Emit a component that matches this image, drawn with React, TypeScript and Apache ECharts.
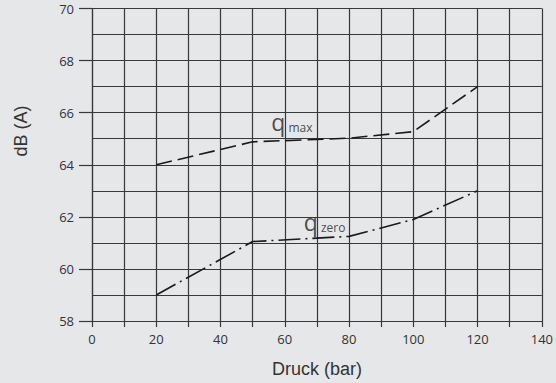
import React, { useEffect, useRef } from "react";
import * as echarts from "echarts";

const pressure = [20, 50, 80, 100, 120];
const qMax = [64, 64.88, 65.02, 65.27, 67];
const qZero = [59, 61.05, 61.25, 61.9, 63];
const xTicks = [0, 20, 40, 60, 80, 100, 120, 140];
const yTicks = [58, 60, 62, 64, 66, 68, 70];
const labelPoints = [
  { x: 62.2, y: 65.68, main: "q", sub: "max" },
  { x: 72.4, y: 61.84, main: "q", sub: "zero" },
];

const GRID = "#383838";
const TXT = "#333333";
const FONT = "'Open Sans', 'Noto Sans', sans-serif";
const SANS = "'Liberation Sans', Arial, sans-serif";

export default function App() {
  const ref = useRef<HTMLDivElement>(null);
  useEffect(() => {
    if (!ref.current) return;
    const chart = echarts.init(ref.current, undefined, { renderer: "svg" });
    const gl = { color: GRID, width: 1.2 };
    chart.setOption({
      animation: false,
      backgroundColor: "#e6e7e9",
      textStyle: { fontFamily: FONT },
      grid: { left: 92, right: 12, top: 8.5, bottom: 62, containLabel: false },
      xAxis: {
        type: "value",
        min: xTicks[0],
        max: xTicks[xTicks.length - 1],
        interval: 20,
        axisLine: { show: true, lineStyle: gl },
        axisTick: { show: true, length: 6, lineStyle: gl },
        minorTick: { show: true, splitNumber: 2, length: 6, lineStyle: gl },
        splitLine: { show: true, lineStyle: gl },
        minorSplitLine: { show: true, lineStyle: gl },
        axisLabel: { color: TXT, fontSize: 13, margin: 11, fontFamily: FONT },
        name: "Druck (bar)",
        nameLocation: "middle",
        nameGap: 39,
        nameTextStyle: { color: TXT, fontSize: 18, fontFamily: SANS },
      },
      yAxis: {
        type: "value",
        min: yTicks[0],
        max: yTicks[yTicks.length - 1],
        interval: 2,
        axisLine: { show: true, lineStyle: gl },
        axisTick: { show: true, length: 13, lineStyle: gl },
        minorTick: { show: false, splitNumber: 2 },
        splitLine: { show: true, lineStyle: gl },
        minorSplitLine: { show: true, lineStyle: gl },
        axisLabel: { color: TXT, fontSize: 13, margin: 18, fontFamily: FONT },
      },
      graphic: [
        {
          type: "text",
          x: 21,
          y: 131,
          rotation: Math.PI / 2,
          style: {
            text: "dB (A)",
            fill: TXT,
            fontSize: 18,
            fontFamily: SANS,
            align: "center",
            verticalAlign: "middle",
          },
        },
      ],
      series: [
        {
          type: "line",
          name: "qmax",
          data: pressure.map((p, i) => [p, qMax[i]]),
          symbol: "none",
          lineStyle: { color: "#1a1a1a", width: 1.6, type: [16, 6] },
        },
        {
          type: "line",
          name: "qzero",
          data: pressure.map((p, i) => [p, qZero[i]]),
          symbol: "none",
          lineStyle: { color: "#1a1a1a", width: 1.6, type: [22, 5, 2, 5] },
        },
        {
          type: "scatter",
          data: labelPoints.map((l) => ({ value: [l.x, l.y], main: l.main, sub: l.sub })),
          symbolSize: 0,
          silent: true,
          label: {
            show: true,
            position: "inside",
            formatter: (p: any) => `{q|${p.data.main}}{s|${p.data.sub}}`,
            rich: {
              q: { fontSize: 23, lineHeight: 24, color: "#222", fontFamily: FONT, padding: [0, 3, 0, 0], verticalAlign: "bottom" },
              s: { fontSize: 12, lineHeight: 14, color: "#222", fontFamily: FONT, verticalAlign: "bottom" },
            },
          },
        },
      ],
    });
    return () => chart.dispose();
  }, []);
  return (
    <div
      ref={ref}
      style={{ position: "absolute", left: 0, top: 0, width: 556, height: 383 }}
    />
  );
}
